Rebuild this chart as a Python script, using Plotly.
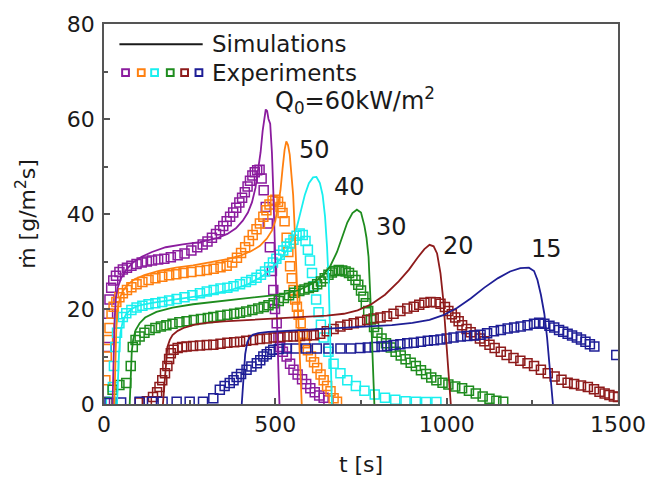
import plotly.graph_objects as go

# ---------------- data ----------------
heat_flux_labels = ["60", "50", "40", "30", "20", "15"]

# Simulations (lines)
sim60_t = [25, 28, 31, 35, 40, 50, 65, 85, 110, 140, 180, 230, 280, 330, 360, 385, 405, 420, 432, 442, 450, 457, 463, 468, 472, 476, 480, 485, 490, 494, 499, 504, 509, 512]
sim60_v = [0, 8, 18, 22.5, 24.5, 26.5, 28.3, 29.8, 31, 32, 33, 33.6, 34.1, 34.9, 35.8, 37, 38.6, 40.3, 42.5, 45.5, 49, 53, 57.5, 60.5, 62, 61.7, 60, 59, 53, 45, 34, 20, 7, 0]

sim50_t = [30, 33, 36, 40, 47, 57, 70, 90, 120, 160, 210, 260, 310, 360, 400, 430, 455, 475, 490, 500, 508, 515, 521, 527, 532, 537, 542, 547, 552, 557, 562, 567, 572, 577]
sim50_v = [0, 8, 16, 20, 22.5, 24, 25.2, 26.3, 27.2, 28, 28.7, 29.2, 29.8, 30.5, 31.3, 32.2, 33.3, 34.8, 36.5, 38.5, 42, 45, 49.5, 53.5, 55.3, 54.5, 52.5, 49, 44, 36, 27, 18, 9, 0]

sim40_t = [38, 41, 44, 48, 55, 65, 80, 100, 140, 190, 250, 310, 370, 420, 460, 490, 515, 535, 550, 562, 574, 586, 598, 610, 620, 630, 638, 645, 651, 656, 660, 665]
sim40_v = [0, 6, 11, 15, 17.5, 19, 20, 20.7, 21.3, 21.8, 22.4, 23.1, 24, 25.2, 26.8, 28.6, 30.5, 32.5, 34.5, 37, 40.5, 44, 46.5, 47.7, 47.8, 46.5, 44, 39.5, 33, 25, 14, 0]

sim30_t = [75, 78, 81, 85, 92, 104, 120, 153, 200, 260, 330, 400, 460, 520, 570, 610, 640, 660, 680, 695, 710, 725, 738, 750, 760, 766, 772, 777, 782, 786, 789]
sim30_v = [0, 5, 11, 13.5, 15.5, 17, 18.2, 19.4, 20.3, 21, 21.6, 22.1, 22.6, 23.1, 24, 25.4, 27.2, 29, 32, 35, 38.2, 40.2, 40.9, 40.3, 37.5, 35, 31, 23, 13, 5, 0]

sim20_t = [172, 176, 180, 185, 192, 200, 215, 235, 265, 300, 350, 420, 500, 580, 650, 700, 740, 780, 820, 860, 890, 915, 935, 950, 962, 972, 982, 990, 997, 1003, 1008, 1012]
sim20_v = [0, 4, 9, 12, 13.5, 14.5, 15.4, 16.1, 16.7, 17.1, 17.4, 17.7, 18, 18.3, 18.6, 19, 19.7, 21, 23, 25.8, 28.3, 30.8, 32.6, 33.5, 33.2, 31.7, 27.5, 22, 15.6, 9.5, 4, 0]

sim15_t = [402, 405, 408, 412, 418, 425, 435, 450, 480, 530, 600, 680, 760, 840, 900, 950, 990, 1030, 1070, 1110, 1150, 1185, 1215, 1240, 1255, 1265, 1275, 1285, 1293, 1300, 1305, 1310]
sim15_v = [0, 3.5, 7, 10.5, 13, 14, 14.6, 14.9, 15.2, 15.4, 15.6, 15.9, 16.2, 16.6, 17.1, 17.7, 18.7, 20.2, 22.2, 24.5, 26.5, 27.9, 28.6, 28.7, 28, 26.1, 23, 19, 14, 8.6, 4, 0]

# Experiments (open squares)
exp60_t = [3, 8, 12, 16, 21, 27, 35, 45, 55, 67, 80, 95, 110, 125, 140, 158, 176, 195, 215, 235, 255, 272, 288, 302, 315, 327, 338, 348, 358, 368, 377, 386, 395, 403, 411, 419, 426, 433, 440, 447, 454, 460, 466, 472, 478, 484, 490, 494, 499, 504, 509, 514, 522, 533, 543, 553, 565, 578, 590, 602, 615, 628, 641, 655]
exp60_v = [0.5, 12, 19, 22, 24.5, 26, 27, 27.8, 28.3, 28.7, 29.1, 29.5, 29.8, 30, 30.2, 30.4, 30.6, 30.9, 31.3, 31.7, 32.3, 33, 33.6, 34.2, 35, 35.8, 36.6, 37.5, 38.5, 39.4, 40.3, 41.3, 42.4, 43.4, 44.6, 45.8, 47, 48.1, 48.8, 49.2, 49.3, 47.5, 45, 41.5, 38, 33, 28, 24, 20, 17, 14, 12, 11, 10, 8.5, 7.2, 6.2, 5.2, 4.2, 3.3, 2.5, 1.8, 1.3, 0.8]

exp50_t = [4, 8, 12, 16, 22, 28, 36, 45, 55, 67, 80, 95, 112, 130, 150, 170, 190, 211, 232, 255, 280, 300, 320, 340, 358, 374, 388, 400, 412, 423, 434, 445, 455, 465, 474, 483, 492, 500, 508, 515, 521, 527, 533, 538, 543, 548, 553, 558, 563, 568, 574, 580, 587, 595, 604, 613, 622, 632, 641, 651, 661, 670, 680]
exp50_v = [5, 10, 13.5, 16, 19, 20.5, 21.5, 22.5, 23.3, 24, 24.6, 25.2, 25.7, 26.1, 26.5, 26.8, 27.1, 27.3, 27.6, 27.8, 28, 28.2, 28.5, 28.8, 29.1, 29.8, 30.8, 31.8, 33, 34.3, 35.6, 36.8, 38, 39.4, 40.8, 42, 42.8, 43, 42.6, 41.5, 40.2, 38.5, 35, 32, 29, 26.5, 24, 22, 20.5, 18.8, 17, 14.8, 12.8, 11.3, 10, 8.8, 7.6, 6.2, 5, 3.8, 2.7, 1.2, 0.5]

exp40_t = [20, 26, 29, 33, 38, 45, 55, 65, 80, 95, 112, 130, 150, 170, 190, 212, 235, 258, 280, 300, 320, 340, 360, 378, 397, 414, 430, 445, 458, 470, 482, 493, 503, 513, 523, 533, 543, 553, 562, 571, 580, 588, 595, 601, 607, 613, 619, 626, 633, 641, 655, 670, 690, 710, 735, 760, 790, 820, 850, 880, 910, 940, 970]
exp40_v = [0.5, 3.6, 8, 12, 15, 17, 18.3, 19.1, 19.8, 20.3, 20.7, 21, 21.2, 21.5, 21.8, 22.1, 22.5, 22.9, 23.3, 23.7, 24, 24.3, 24.5, 24.8, 25.2, 25.7, 26.1, 26.6, 27.2, 27.9, 28.8, 29.8, 30.6, 31.4, 32.3, 33.1, 33.8, 34.6, 35.4, 35.9, 35.6, 34.3, 32.5, 30.2, 27.6, 24.8, 22, 19.3, 16.7, 14, 11, 8.5, 6.5, 5, 3.8, 2.8, 2, 1.3, 0.9, 0.6, 0.5, 0.4, 0.4]

exp30_t = [10, 25, 45, 65, 78, 84, 92, 104, 118, 133, 150, 166, 182, 200, 220, 241, 262, 283, 303, 319, 340, 360, 380, 397, 415, 433, 450, 466, 480, 495, 510, 525, 540, 555, 570, 585, 598, 610, 622, 633, 644, 655, 665, 675, 685, 695, 705, 715, 725, 734, 742, 750, 757, 764, 771, 779, 788, 798, 810, 823, 837, 851, 866, 880, 895, 910, 925, 940, 955, 970, 988, 1005, 1025, 1045, 1065, 1085, 1105, 1125, 1145, 1165]
exp30_v = [0.3, 3, 4, 4.4, 8, 12, 13.5, 14.2, 15, 15.6, 16, 16.3, 16.6, 16.9, 17.2, 17.4, 17.7, 17.9, 18.1, 18.3, 18.6, 18.8, 19, 19.2, 19.5, 19.8, 20.1, 20.4, 20.8, 21.2, 21.7, 22.3, 22.9, 23.4, 23.8, 24.1, 24.4, 24.7, 25.2, 25.8, 26.5, 27.2, 27.7, 28, 28.2, 28.1, 27.9, 27.6, 27, 26.1, 25.1, 23.9, 22.6, 21.2, 19.6, 17.8, 16.2, 15, 13.8, 12.8, 11.9, 11, 10.2, 9.4, 8.7, 8, 7.1, 6.3, 5.6, 5, 4.5, 4.1, 3.7, 3.3, 2.8, 2.2, 1.6, 1.1, 0.7, 0.5]

exp20_t = [104, 125, 143, 155, 162, 170, 178, 185, 190, 195, 203, 215, 228, 241, 260, 280, 300, 319, 340, 360, 380, 397, 415, 435, 455, 475, 495, 515, 535, 553, 572, 592, 612, 631, 650, 670, 690, 710, 729, 748, 768, 787, 807, 826, 845, 865, 885, 904, 920, 935, 953, 968, 982, 995, 1005, 1015, 1025, 1035, 1045, 1058, 1070, 1083, 1097, 1110, 1125, 1140, 1158, 1175, 1195, 1215, 1236, 1255, 1275, 1295, 1315, 1335, 1353, 1372, 1392, 1412, 1430, 1446, 1461, 1475, 1488, 1500]
exp20_v = [0.3, 0.6, 1.5, 2.5, 3.6, 5, 6.5, 8, 9.5, 10.7, 11.4, 11.8, 12, 12.1, 12.2, 12.3, 12.4, 12.5, 12.7, 12.9, 13, 13.1, 13.3, 13.5, 13.7, 13.8, 14, 14.1, 14.2, 14.2, 14.3, 14.4, 14.5, 14.8, 15.3, 15.8, 16.3, 16.7, 17, 17.3, 17.7, 18, 18.2, 18.5, 19, 19.6, 20.1, 20.5, 20.9, 21.3, 21.5, 21.4, 21.1, 20.4, 19.6, 18.9, 18.2, 17.4, 16.6, 15.8, 15.1, 14.5, 13.8, 13.2, 12.5, 11.8, 11, 10.3, 9.7, 9.1, 8.6, 8, 7.2, 6.5, 5.8, 5.1, 4.5, 4.2, 3.9, 3.6, 3.1, 2.6, 2.2, 1.9, 1.6, 1.5]

exp15_t = [16, 50, 104, 140, 171, 212, 250, 289, 319, 338, 352, 367, 378, 387, 400, 416, 430, 446, 456, 465, 475, 485, 494, 510, 533, 560, 590, 621, 655, 690, 720, 748, 770, 790, 810, 826, 845, 865, 885, 904, 925, 945, 963, 982, 1000, 1020, 1041, 1060, 1080, 1099, 1118, 1138, 1158, 1178, 1197, 1216, 1236, 1255, 1270, 1285, 1300, 1314, 1328, 1340, 1353, 1366, 1380, 1392, 1405, 1418, 1431, 1495]
exp15_v = [0.2, 0.3, 0.5, 0.5, 0.5, 0.5, 0.5, 0.5, 1.2, 3, 3.8, 4.4, 5, 5.7, 6.3, 7.2, 7.9, 8.6, 9.2, 10, 10.5, 11, 11.4, 11.6, 11.7, 11.7, 11.7, 11.7, 11.7, 11.7, 11.7, 11.8, 11.9, 12, 12.1, 12.2, 12.4, 12.6, 12.8, 12.9, 13.1, 13.3, 13.4, 13.6, 13.8, 14, 14.2, 14.3, 14.4, 14.6, 14.9, 15.3, 15.6, 15.9, 16.1, 16.3, 16.6, 16.9, 17.1, 16.9, 16.5, 16.1, 15.6, 15.2, 14.8, 14.4, 14, 13.6, 13.1, 12.6, 12.1, 10.3]

# label anchor positions for the heat-flux labels (data coords)
label_t = [494, 563, 665, 787, 982, 1241]
label_v = [63.8, 53.5, 45.6, 37.2, 33.3, 32.6]

x_ticks = [0, 500, 1000, 1500]
y_ticks = [0, 20, 40, 60, 80]

# ---------------- style ----------------
colors = ["#8B1C9E", "#FF8010", "#19EFEF", "#1E8C1E", "#8E1B1B", "#1E1E96"]
FONT = "DejaVu Sans"
AX = "#555555"

sims = [(sim60_t, sim60_v), (sim50_t, sim50_v), (sim40_t, sim40_v),
        (sim30_t, sim30_v), (sim20_t, sim20_v), (sim15_t, sim15_v)]
exps = [(exp60_t, exp60_v), (exp50_t, exp50_v), (exp40_t, exp40_v),
        (exp30_t, exp30_v), (exp20_t, exp20_v), (exp15_t, exp15_v)]

fig = go.Figure()
for (t, v), c, lab in zip(exps, colors, heat_flux_labels):
    fig.add_trace(go.Scatter(
        x=t, y=v, mode="markers", name=f"Experiment {lab}", showlegend=False,
        marker=dict(symbol="square-open", size=9, color=c, line=dict(width=1.5, color=c))))
for (t, v), c, lab in zip(sims, colors, heat_flux_labels):
    fig.add_trace(go.Scatter(
        x=t, y=v, mode="lines", name=f"Simulation {lab}", showlegend=False,
        line=dict(color=c, width=1.8)))

annotations = []
for i, (lt, lv, lab) in enumerate(zip(label_t, label_v, heat_flux_labels)):
    text = "Q<sub>0</sub>=" + lab + "kW/m<sup>2</sup>" if i == 0 else lab
    annotations.append(dict(x=lt, y=lv, xref="x", yref="y", text=text, showarrow=False,
                            xanchor="left", yanchor="middle",
                            font=dict(family=FONT, size=24, color="#1a1a1a")))

# custom legend (paper coords)
shapes = [dict(type="line", xref="paper", yref="paper", x0=0.030, x1=0.192, y0=0.947, y1=0.947,
               line=dict(color="#1a1a1a", width=2))]
sq_x = [0.0419, 0.0725, 0.0984, 0.1289, 0.1568, 0.1847]
for sx, c in zip(sq_x, colors):
    shapes.append(dict(type="rect", xref="paper", yref="paper",
                       x0=sx - 0.0066, x1=sx + 0.0066, y0=0.872 - 0.0089, y1=0.872 + 0.0089,
                       line=dict(color=c, width=2)))
annotations.append(dict(x=0.2055, y=0.947, xref="paper", yref="paper", text="Simulations",
                        showarrow=False, xanchor="left", yanchor="middle",
                        font=dict(family=FONT, size=23, color="#1a1a1a")))
annotations.append(dict(x=0.2055, y=0.872, xref="paper", yref="paper", text="Experiments",
                        showarrow=False, xanchor="left", yanchor="middle",
                        font=dict(family=FONT, size=23, color="#1a1a1a")))

axis_common = dict(showline=True, linecolor=AX, linewidth=1.5, mirror=True,
                   ticks="inside", ticklen=6, tickwidth=1.5, tickcolor=AX,
                   showgrid=False, zeroline=False, automargin=False,
                   tickfont=dict(family=FONT, size=22, color="#1a1a1a"))

fig.update_layout(
    width=649, height=477,
    margin=dict(l=104, r=31, t=24, b=73),
    paper_bgcolor="white", plot_bgcolor="white",
    font=dict(family=FONT, color="#1a1a1a"),
    xaxis=dict(range=[0, 1500], tickmode="array", tickvals=x_ticks,
               minor=dict(ticks="inside", ticklen=4, tickwidth=1.5, tickcolor=AX, dtick=250, tick0=0),
               ticklabelstandoff=0,
               title=dict(text="t [s]", font=dict(family=FONT, size=22), standoff=20),
               **axis_common),
    yaxis=dict(range=[0, 80], tickmode="array", tickvals=y_ticks,
               minor=dict(ticks="inside", ticklen=4, tickwidth=1.5, tickcolor=AX, dtick=10, tick0=0),
               ticklabelstandoff=3,
               title=dict(text="ṁ [g/m<sup>2</sup>s]", font=dict(family=FONT, size=22), standoff=25),
               **axis_common),
    annotations=annotations,
    shapes=shapes,
)

# remove the default 8px page margin so the 649x477 figure fills the window exactly
fig.write_html("out.html",
               config={"displayModeBar": False},
               post_script="document.body.style.margin='0';document.body.style.overflow='hidden';")
